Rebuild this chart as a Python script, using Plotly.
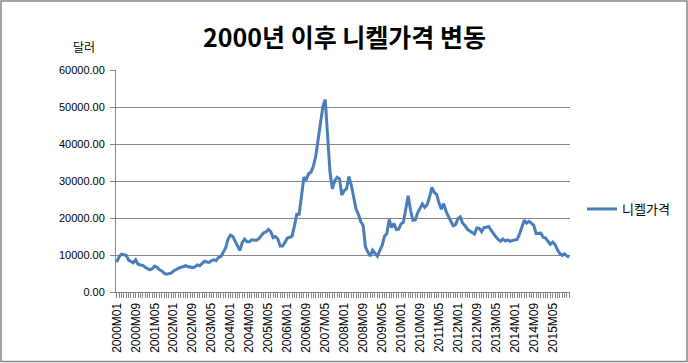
import plotly.graph_objects as go

years = list(range(2000, 2016))
months = [f"{y}M{m:02d}" for y in years for m in range(1, 13)]

nickel_2000 = [8100, 9500, 10200, 10100, 9900, 8600, 8300, 7900, 8700, 7500, 7300, 7200]
nickel_2001 = [6700, 6300, 6000, 6300, 7000, 6700, 6000, 5700, 5100, 4800, 4900, 5100]
nickel_2002 = [5700, 6000, 6500, 6700, 6800, 7100, 6900, 6700, 6600, 6800, 7300, 7100]
nickel_2003 = [7800, 8300, 8100, 8000, 8500, 8700, 8500, 9400, 9600, 10900, 12000, 14300]
nickel_2004 = [15400, 15000, 13600, 12600, 11200, 13400, 14300, 13600, 13600, 14100, 14000, 14000]
nickel_2005 = [14400, 15300, 16000, 16200, 16900, 16300, 14700, 15000, 14300, 12400, 12400, 13400]
nickel_2006 = [14600, 14800, 15100, 17800, 21000, 21000, 26500, 31000, 30400, 32000, 32400, 34000]
nickel_2007 = [36700, 41200, 45600, 50100, 52000, 41500, 32500, 27900, 30000, 31000, 30600, 26200]
nickel_2008 = [27400, 27900, 31200, 28900, 26000, 22400, 21000, 19000, 18000, 12100, 10800, 9700]
nickel_2009 = [11300, 10400, 9700, 11200, 12600, 15000, 15800, 19600, 17400, 18500, 16900, 17000]
nickel_2010 = [18400, 18900, 22500, 26000, 22100, 19400, 19500, 21400, 22600, 23800, 22900, 23600]
nickel_2011 = [25600, 28300, 26900, 26400, 24100, 22400, 23900, 21800, 20400, 19000, 17900, 18200]
nickel_2012 = [19800, 20300, 18600, 17900, 17000, 16500, 16100, 15700, 17300, 17200, 16300, 17400]
nickel_2013 = [17500, 17700, 16700, 15700, 14900, 14200, 13700, 14300, 13800, 14100, 13700, 13900]
nickel_2014 = [14100, 14200, 15700, 17400, 19400, 18600, 19100, 18600, 18000, 15800, 15800, 15900]
nickel_2015 = [14800, 14600, 13700, 12900, 13500, 12800, 11400, 10400, 9900, 10300, 9700, 9400]

nickel = (nickel_2000 + nickel_2001 + nickel_2002 + nickel_2003 + nickel_2004 + nickel_2005
          + nickel_2006 + nickel_2007 + nickel_2008 + nickel_2009 + nickel_2010 + nickel_2011
          + nickel_2012 + nickel_2013 + nickel_2014 + nickel_2015)

tick_text = [m if i % 8 == 0 else "" for i, m in enumerate(months)]
y_ticks = [0, 10000, 20000, 30000, 40000, 50000, 60000]

KR = "Noto Sans CJK KR"

fig = go.Figure()
fig.add_trace(go.Scatter(
    x=months, y=nickel, mode="lines", name="니켈가격",
    line=dict(color="#4A7EBB", width=3),
))

L, R, T, B = 116, 118, 70, 71
W, H = 688, 363
pw, ph = W - L - R, H - T - B

fig.update_layout(
    width=W, height=H,
    margin=dict(l=L, r=R, t=T, b=B, autoexpand=False),
    paper_bgcolor="white", plot_bgcolor="white",
    font=dict(family=KR, size=11, color="black"),
    showlegend=True,
    legend=dict(x=(582 - L) / pw, y=(292 - 209) / ph, xanchor="left", yanchor="middle",
                font=dict(family=KR, size=13), bgcolor="rgba(0,0,0,0)"),
    xaxis=dict(
        type="category", tickmode="array", tickvals=months, ticktext=tick_text,
        tickangle=-90, ticks="outside", ticklen=5, tickcolor="#868686",
        showline=True, linecolor="#868686", linewidth=1, showgrid=False, automargin=False,
        tickfont=dict(family="Liberation Sans", size=12), range=[-0.3, len(months) - 0.7],
    ),
    yaxis=dict(
        range=[0, 60000], tickvals=y_ticks, ticktext=[f"{v:.2f}" for v in y_ticks],
        ticks="outside", ticklen=5, tickcolor="#868686", automargin=False,
        ticklabelstandoff=3,
        showline=True, linecolor="#868686", linewidth=1,
        showgrid=True, gridcolor="#868686", gridwidth=1, zeroline=False,
        tickfont=dict(family="Liberation Sans", size=11),
    ),
    annotations=[
        dict(text="<b>2000년 이후 니켈가격 변동</b>", xref="paper", yref="paper",
             x=(344 - L) / pw, y=(292 - 36) / ph, xanchor="center", yanchor="middle",
             showarrow=False, font=dict(family=KR, size=25, color="black")),
        dict(text="달러", xref="paper", yref="paper",
             x=(84 - L) / pw, y=(292 - 47) / ph, xanchor="center", yanchor="middle",
             showarrow=False, font=dict(family=KR, size=12, color="black")),
    ],
    shapes=[
        dict(type="rect", xref="paper", yref="paper",
             x0=(1 - L) / pw, x1=(687 - L) / pw, y0=(292 - 361.5) / ph, y1=(292 - 1) / ph,
             line=dict(color="#868686", width=1.5), fillcolor="rgba(0,0,0,0)", layer="below"),
    ],
)

fig.write_html("out.html", config={"displayModeBar": False},
               post_script="document.body.style.margin='0px';document.body.style.overflow='hidden';")
